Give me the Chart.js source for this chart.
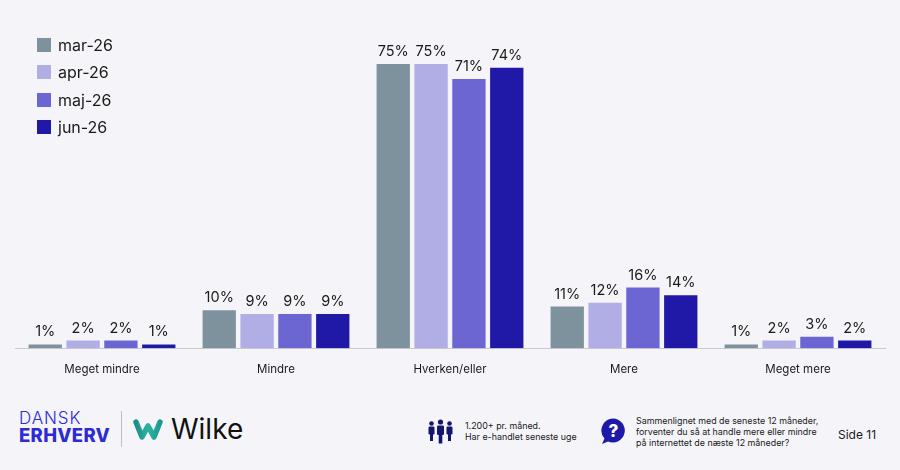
<!DOCTYPE html>
<html>
<head>
<meta charset="utf-8">
<script src="https://cdn.jsdelivr.net/npm/chart.js@4.4.1/dist/chart.umd.min.js"></script>
<style>
  body { margin: 0; background: #f5f5f9; font-family: Inter, "Liberation Sans", sans-serif; color: #1a1a1a; }
  #page { position: relative; width: 900px; height: 470px; overflow: hidden; background: #f5f5f9; }
  #chartBox { position: absolute; left: 0; top: 0; width: 900px; height: 392px; }
  .leg { position: absolute; left: 37px; font-size: 16px; line-height: 14px; white-space: nowrap; }
  .leg i { display: inline-block; width: 14px; height: 14px; vertical-align: top; margin-right: 7px; }
  .abs { position: absolute; white-space: nowrap; }
  .small { color: #1a1a1a; font-size: 8.9px; line-height: 11.2px; }
</style>
</head>
<body>
<div id="page">
  <div id="chartBox"><canvas id="chart"></canvas></div>
  <div id="legend"></div>

  <!-- footer -->
  <div class="abs" style="left:19px;top:411px;color:#2e2ad6;font-size:17px;font-weight:300;line-height:14px;letter-spacing:0.9px;">DANSK</div>
  <div class="abs" style="left:19px;top:426px;color:#2e2ad6;font-size:18.5px;font-weight:800;line-height:18px;letter-spacing:0.3px;">ERHVERV</div>
  <div class="abs" style="left:121px;top:411px;width:1px;height:36px;background:#bdbdc4;"></div>
  <svg class="abs" style="left:133px;top:418px;" width="30" height="24" viewBox="0 0 30 24">
    <defs><linearGradient id="wg" x1="0" x2="1" y1="0" y2="0">
      <stop offset="0" stop-color="#1f8f86"/><stop offset="0.5" stop-color="#2bb3a3"/><stop offset="1" stop-color="#1f9a8e"/></linearGradient></defs>
    <path d="M3 4 L9 19 L15 8 L21 19 L27 4" fill="none" stroke="url(#wg)" stroke-width="5.5" stroke-linecap="round" stroke-linejoin="round"/>
  </svg>
  <div class="abs" style="left:171px;top:412px;font-size:28px;line-height:34px;color:#111;">Wilke</div>

  <svg class="abs" style="left:427px;top:419px;" width="27" height="25" viewBox="0 0 27 25">
    <g fill="#15156e">
      <circle cx="4.5" cy="4.5" r="2.3"/><rect x="1.5" y="7.5" width="6" height="8" rx="1.2"/><rect x="3" y="14" width="3" height="8"/>
      <circle cx="13.5" cy="3" r="2.6"/><rect x="10" y="6.5" width="7" height="9.5" rx="1.3"/><rect x="11.7" y="15" width="3.6" height="9.5"/>
      <circle cx="22.5" cy="4.5" r="2.3"/><rect x="19.5" y="7.5" width="6" height="8" rx="1.2"/><rect x="21" y="14" width="3" height="8"/>
    </g>
  </svg>
  <div class="abs small" style="left:465px;top:420px;">1.200+ pr. måned.<br>Har e-handlet seneste uge</div>

  <svg class="abs" style="left:599px;top:417px;" width="28" height="28" viewBox="0 0 28 28">
    <path d="M14 1.5 A12 12 0 1 1 9 24.5 L3 27 L5.5 21.5 A12 12 0 0 1 14 1.5 Z" fill="#1e1aa8"/>
    <text x="14.5" y="19.5" text-anchor="middle" font-family="Inter, sans-serif" font-weight="800" font-size="17" fill="#fff">?</text>
  </svg>
  <div class="abs small" style="left:636px;top:415px;">Sammenlignet med de seneste 12 måneder,<br>forventer du så at handle mere eller mindre<br>på internettet de næste 12 måneder?</div>
  <div class="abs" style="left:838px;top:428px;font-size:12px;line-height:14px;">Side 11</div>
</div>

<script>
const categories = ['Meget mindre', 'Mindre', 'Hverken/eller', 'Mere', 'Meget mere'];
const periods = ['mar-26', 'apr-26', 'maj-26', 'jun-26'];
const mar26 = [1, 10, 75, 11, 1];
const apr26 = [2, 9, 75, 12, 2];
const maj26 = [2, 9, 71, 16, 3];
const jun26 = [1, 9, 74, 14, 2];
const colors = ['#7e929d', '#b1ade5', '#6b66d1', '#2019a7'];

const series = [mar26, apr26, maj26, jun26];

// legend in html, top left
const legendEl = document.getElementById('legend');
periods.forEach((p, i) => {
  const d = document.createElement('div');
  d.className = 'leg';
  d.style.top = (37.5 + i * 27.6) + 'px';
  d.innerHTML = '<i style="background:' + colors[i] + '"></i>' + p;
  legendEl.appendChild(d);
});

const valueLabels = {
  id: 'valueLabels',
  afterDatasetsDraw(chart) {
    const ctx = chart.ctx;
    ctx.save();
    ctx.font = '14.5px Inter, "Liberation Sans", sans-serif';
    ctx.fillStyle = '#1a1a1a';
    ctx.textAlign = 'center';
    ctx.textBaseline = 'alphabetic';
    chart.data.datasets.forEach((ds, i) => {
      chart.getDatasetMeta(i).data.forEach((bar, j) => {
        ctx.fillText(ds.data[j] + '%', bar.x, bar.y - 8);
      });
    });
    ctx.restore();
  }
};

new Chart(document.getElementById('chart'), {
  type: 'bar',
  data: {
    labels: categories,
    datasets: periods.map((p, i) => ({
      label: p,
      data: series[i],
      backgroundColor: colors[i],
      borderWidth: 0,
      categoryPercentage: 0.87,
      barPercentage: 0.88
    }))
  },
  options: {
    responsive: true,
    maintainAspectRatio: false,
    animation: false,
    layout: { padding: { left: 15, right: 15, top: 45, bottom: 2 } },
    plugins: {
      legend: { display: false },
      tooltip: { enabled: false }
    },
    scales: {
      x: {
        grid: { display: false, drawTicks: false },
        border: { display: true, color: '#c9c9d1', width: 1 },
        ticks: { color: '#1a1a1a', padding: 14, font: { size: 11.5, family: 'Inter, "Liberation Sans", sans-serif' } }
      },
      y: { display: false, min: 0, max: 80 }
    }
  },
  plugins: [valueLabels]
});
</script>
</body>
</html>
